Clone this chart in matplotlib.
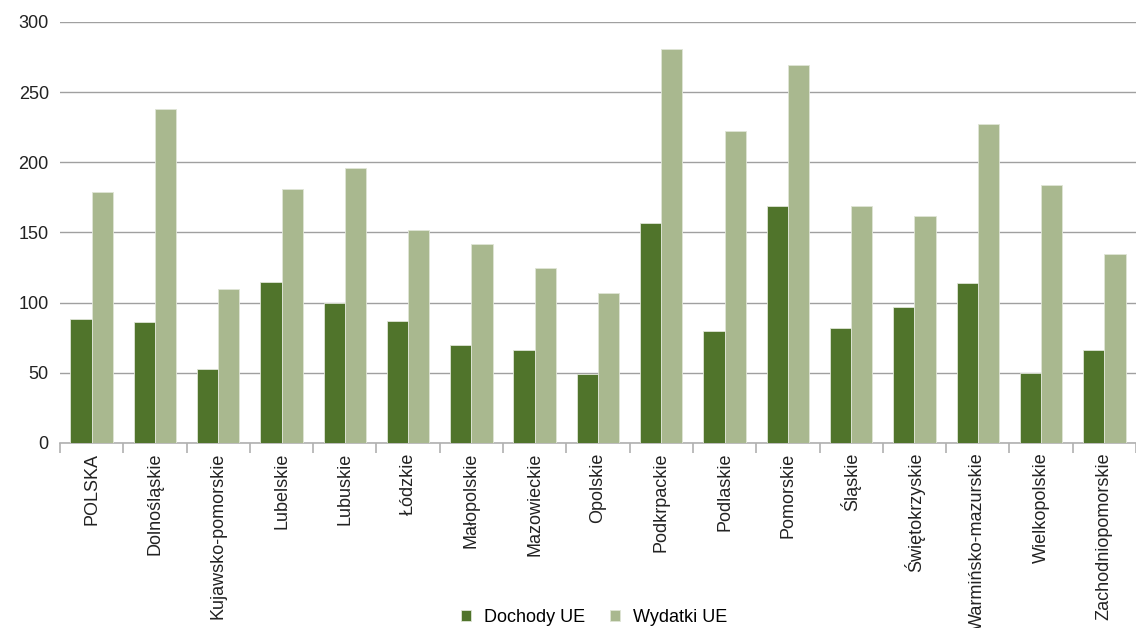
import matplotlib.pyplot as plt
import numpy as np

regions = ['POLSKA', 'Dolnośląskie', 'Kujawsko-pomorskie', 'Lubelskie', 'Lubuskie',
           'Łódzkie', 'Małopolskie', 'Mazowieckie', 'Opolskie', 'Podkrpackie',
           'Podlaskie', 'Pomorskie', 'Śląskie', 'Świętokrzyskie', 'Warmińsko-mazurskie',
           'Wielkopolskie', 'Zachodniopomorskie']
dochody = [88, 86, 53, 115, 100, 87, 70, 66, 49, 157, 80, 169, 82, 97, 114, 50, 66]
wydatki = [179, 238, 110, 181, 196, 152, 142, 125, 107, 281, 222, 269, 169, 162, 227, 184, 135]

plt.rcParams['font.family'] = ['Liberation Sans', 'DejaVu Sans']

fig = plt.figure(figsize=(11.36, 6.28), dpi=100)
ax = fig.add_axes([0.0528, 0.2946, 0.9472, 0.6704])

x = np.arange(len(regions))
w = 0.335
ax.bar(x - w / 2, dochody, w, color='#50742b', edgecolor='#dfe5d6', linewidth=0.6,
       label='Dochody UE', zorder=3)
ax.bar(x + w / 2, wydatki, w, color='#a9b88f', edgecolor='#dfe5d6', linewidth=0.6,
       label='Wydatki UE', zorder=3)

ax.set_xlim(-0.5, len(regions) - 0.5)
ax.set_ylim(0, 300)
ax.set_yticks(range(0, 301, 50))
ax.yaxis.grid(True, color='#a0a0a0', linewidth=1, zorder=0)
ax.tick_params(axis='y', length=0, labelsize=13, pad=8, colors='#222222')

ax.set_xticks(x)
ax.set_xticklabels(regions, rotation=90, fontsize=13, color='#222222')
ax.set_xticks(np.arange(-0.5, len(regions), 1), minor=True)
ax.tick_params(axis='x', which='major', length=0, pad=7)
ax.tick_params(axis='x', which='minor', length=7, color='#b0b0b0', width=1.2)

for side in ['top', 'right', 'left']:
    ax.spines[side].set_visible(False)
ax.spines['bottom'].set_color('#b0b0b0')
ax.spines['bottom'].set_linewidth(1.2)

fig.legend(loc='lower center', bbox_to_anchor=(0.523, -0.022), ncol=2, frameon=False,
           fontsize=13, handlelength=0.55, handleheight=0.55, columnspacing=1.4,
           handletextpad=0.7)

fig.savefig('out.png', dpi=100)
